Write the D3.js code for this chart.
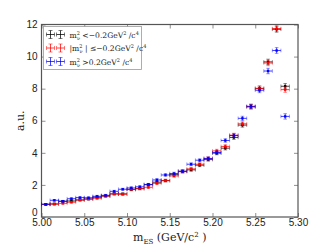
<!DOCTYPE html>
<html>
<head>
<meta charset="utf-8">
<script src="https://cdn.jsdelivr.net/npm/d3@7"></script>
<style>
  body { margin: 0; background: #fff; }
  svg text { fill: #222; }
</style>
</head>
<body>
<div id="chart"></div>
<script>
// bin centres (GeV/c^2)
const binCentres = [5.005, 5.015, 5.025, 5.035, 5.045, 5.055, 5.065, 5.075, 5.085, 5.095,
  5.105, 5.115, 5.125, 5.135, 5.145, 5.155, 5.165, 5.175, 5.185, 5.195,
  5.205, 5.215, 5.225, 5.235, 5.245, 5.255, 5.265, 5.275, 5.285];
const halfBin = 0.005;

const blackVals = [0.79, 0.81, 0.98, 1.00, 1.06, 1.12, 1.23, 1.31, 1.44, 1.44,
  1.71, 1.77, 2.02, 2.17, 2.27, 2.64, 2.85, 2.94, 3.23, 3.58,
  3.98, 4.29, 4.96, 5.73, 6.87, 8.02, 9.67, 11.70, 8.15];
const redVals = [0.79, 0.81, 0.85, 0.92, 1.06, 1.12, 1.17, 1.30, 1.44, 1.42,
  1.73, 1.77, 1.85, 2.10, 2.27, 2.56, 2.83, 3.00, 3.29, 3.65,
  4.12, 4.40, 5.10, 5.81, 6.88, 8.00, 9.60, 11.75, 7.94];
const blueVals = [0.79, 1.04, 0.98, 1.14, 1.21, 1.20, 1.29, 1.35, 1.60, 1.73,
  1.81, 1.88, 2.02, 2.31, 2.62, 2.71, 2.85, 3.29, 3.54, 3.65,
  4.02, 4.77, 5.08, 6.15, 6.90, 7.90, 9.10, 10.38, 6.27];
// vertical errors
const yErrs = [0.05, 0.05, 0.05, 0.05, 0.05, 0.05, 0.06, 0.06, 0.06, 0.06,
  0.07, 0.07, 0.07, 0.08, 0.08, 0.08, 0.09, 0.09, 0.09, 0.10,
  0.10, 0.11, 0.12, 0.13, 0.14, 0.15, 0.17, 0.18, 0.17];

const xTicks = [5.00, 5.05, 5.10, 5.15, 5.20, 5.25, 5.30];
const yTicks = [0, 2, 4, 6, 8, 10, 12];

const series = [
  { name: "black", color: "#000000", values: blackVals },
  { name: "red", color: "#ff0000", values: redVals },
  { name: "blue", color: "#0000ff", values: blueVals }
];

const W = 332, H = 249;
const margin = { top: 24.5, right: 34, bottom: 32, left: 41.5 };
const width = W - margin.left - margin.right,
  height = H - margin.top - margin.bottom;

const svg = d3.select("#chart").append("svg")
  .attr("width", W).attr("height", H)
  .style("font-family", "'DejaVu Sans', sans-serif");

const g = svg.append("g").attr("transform", `translate(${margin.left},${margin.top})`);

const x = d3.scaleLinear().domain([5.00, 5.30]).range([0, width]);
const y = d3.scaleLinear().domain([0, 12]).range([height, 0]);

// axes with inward ticks
function styleAxis(sel) {
  sel.select(".domain").remove();
  sel.selectAll(".tick line").attr("stroke", "#444").attr("stroke-width", 0.6);
  sel.selectAll(".tick text").style("font-size", "10px").attr("fill", "#222");
}

g.append("g").attr("transform", `translate(0,${height})`)
  .call(d3.axisBottom(x).tickValues(xTicks).tickFormat(d3.format(".2f")).tickSizeInner(-4).tickSizeOuter(0).tickPadding(2))
  .call(styleAxis);
g.append("g")
  .call(d3.axisTop(x).tickValues(xTicks).tickFormat("").tickSizeInner(-4).tickSizeOuter(0))
  .call(styleAxis);
const yAxisG = g.append("g")
  .call(d3.axisLeft(y).tickValues(yTicks).tickSizeInner(-4).tickSizeOuter(0).tickPadding(4))
  .call(styleAxis);
// the zero label sits a touch higher, clear of "5.00"
yAxisG.selectAll(".tick text").filter(d => d === 0).attr("dy", "-0.15em");
g.append("g").attr("transform", `translate(${width},0)`)
  .call(d3.axisRight(y).tickValues(yTicks).tickFormat("").tickSizeInner(-4).tickSizeOuter(0))
  .call(styleAxis);

// frame
g.append("rect").attr("width", width).attr("height", height)
  .attr("fill", "none").attr("stroke", "#555").attr("stroke-width", 1.2);

// error bar points
const cap = 1.8;
series.forEach(s => {
  const pts = binCentres.map((c, i) => ({ x: c, y: s.values[i], e: yErrs[i] }));
  const grp = g.append("g").attr("class", "series-" + s.name)
    .attr("stroke", s.color).attr("fill", s.color);
  const p = grp.selectAll("g.pt").data(pts).enter().append("g").attr("class", "pt");
  // horizontal bar
  p.append("line")
    .attr("x1", d => x(d.x - halfBin)).attr("x2", d => x(d.x + halfBin))
    .attr("y1", d => y(d.y)).attr("y2", d => y(d.y))
    .attr("stroke-width", 1).attr("stroke-opacity", 0.75);
  // vertical bar
  p.append("line")
    .attr("x1", d => x(d.x)).attr("x2", d => x(d.x))
    .attr("y1", d => y(d.y - d.e)).attr("y2", d => y(d.y + d.e))
    .attr("stroke-width", 1).attr("stroke-opacity", 0.75);
  // caps
  [-halfBin, halfBin].forEach(o => {
    p.append("line")
      .attr("x1", d => x(d.x + o)).attr("x2", d => x(d.x + o))
      .attr("y1", d => y(d.y) - cap).attr("y2", d => y(d.y) + cap)
      .attr("stroke-width", 0.8).attr("stroke-opacity", 0.5);
  });
  p.append("line")
    .attr("x1", d => x(d.x) - cap).attr("x2", d => x(d.x) + cap)
    .attr("y1", d => y(d.y + d.e)).attr("y2", d => y(d.y + d.e))
    .attr("stroke-width", 0.8).attr("stroke-opacity", 0.5);
  p.append("line")
    .attr("x1", d => x(d.x) - cap).attr("x2", d => x(d.x) + cap)
    .attr("y1", d => y(d.y - d.e)).attr("y2", d => y(d.y - d.e))
    .attr("stroke-width", 0.8).attr("stroke-opacity", 0.5);
  p.append("rect")
    .attr("x", d => x(d.x) - 1.2).attr("y", d => y(d.y) - 1.2)
    .attr("width", 2.4).attr("height", 2.4).attr("stroke", "none");
});

// legend
const leg = g.append("g").attr("transform", "translate(2,2)");
leg.append("rect").attr("width", 98).attr("height", 43)
  .attr("fill", "#fff").attr("stroke", "#999").attr("stroke-width", 0.8);
const legLabels = [
  ["m", "2", "ν", " <−0.2GeV", "2", " /c", "4"],
  ["|m", "2", "ν", " | ≤−0.2GeV", "2", " /c", "4"],
  ["m", "2", "ν", " >0.2GeV", "2", " /c", "4"]
];
series.forEach((s, i) => {
  const row = leg.append("g").attr("transform", `translate(0,${8 + i * 13.5})`);
  [7, 17].forEach(cx => {
    row.append("line").attr("x1", cx - 4).attr("x2", cx + 4).attr("y1", 0).attr("y2", 0)
      .attr("stroke", s.color).attr("stroke-opacity", 0.75);
    row.append("line").attr("x1", cx).attr("x2", cx).attr("y1", -4).attr("y2", 4)
      .attr("stroke", s.color).attr("stroke-opacity", 0.75);
    [-4, 4].forEach(o => row.append("line").attr("x1", cx + o).attr("x2", cx + o)
      .attr("y1", -2).attr("y2", 2).attr("stroke", s.color).attr("stroke-opacity", 0.5));
    [-4, 4].forEach(o => row.append("line").attr("y1", o).attr("y2", o)
      .attr("x1", cx - 2).attr("x2", cx + 2).attr("stroke", s.color).attr("stroke-opacity", 0.5));
  });
  const lb = legLabels[i];
  const t = row.append("text").attr("x", 26).attr("y", 3)
    .style("font-family", "'DejaVu Serif', serif").style("font-size", "7.6px");
  t.append("tspan").text(lb[0]);
  t.append("tspan").attr("dy", -3).style("font-size", "5px").text(lb[1]);
  t.append("tspan").attr("dx", -3).attr("dy", 5).style("font-size", "5px").text(lb[2]);
  t.append("tspan").attr("dy", -2).text(lb[3]);
  t.append("tspan").attr("dy", -3).style("font-size", "5px").text(lb[4]);
  t.append("tspan").attr("dy", 3).text(lb[5]);
  t.append("tspan").attr("dy", -3).style("font-size", "5px").text(lb[6]);
});

// axis labels
svg.append("text")
  .attr("transform", `translate(24,${margin.top + height / 2}) rotate(-90)`)
  .attr("text-anchor", "middle")
  .style("font-family", "'DejaVu Serif', serif").style("font-size", "11px")
  .text("a.u.");

const xl = svg.append("text").attr("x", margin.left + width / 2).attr("y", 241)
  .attr("text-anchor", "middle")
  .style("font-family", "'DejaVu Serif', serif").style("font-size", "11px");
xl.append("tspan").text("m");
xl.append("tspan").attr("dy", 3).style("font-size", "7px").text("ES");
xl.append("tspan").attr("dy", -3).text("  (GeV/c");
xl.append("tspan").attr("dy", -4).style("font-size", "7px").text("2");
xl.append("tspan").attr("dy", 4).text(" )");
</script>
</body>
</html>
